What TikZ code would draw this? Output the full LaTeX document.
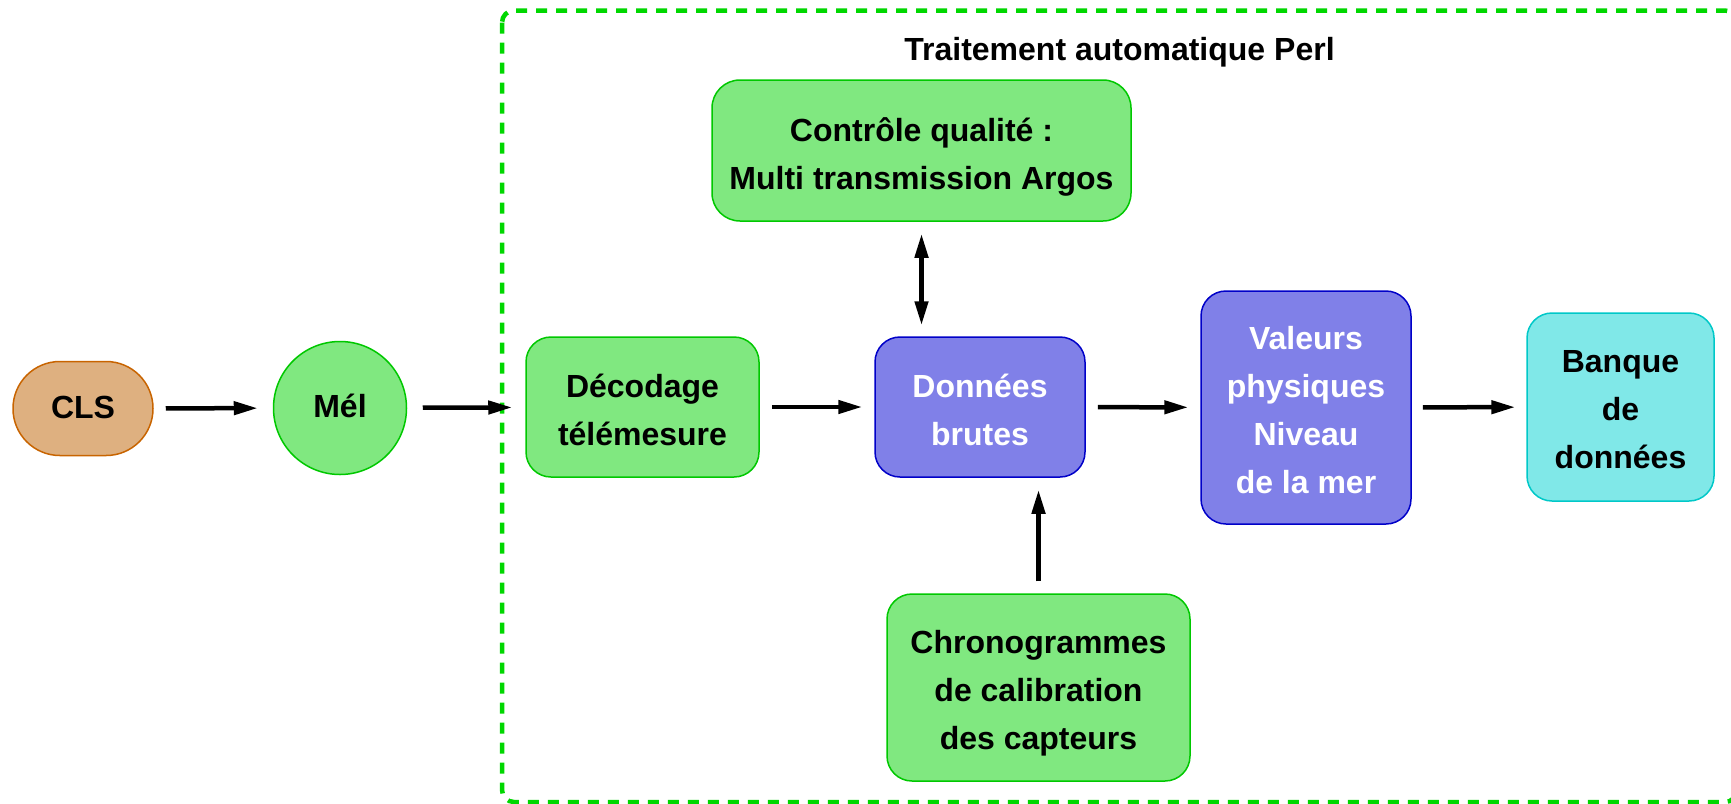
\documentclass[tikz,border=0pt]{standalone}
\usepackage{fontspec}
\setmainfont{Liberation Sans}
\usetikzlibrary{arrows.meta}
\definecolor{gfill}{RGB}{128,232,128}
\definecolor{gline}{RGB}{0,200,0}
\definecolor{bfill}{RGB}{128,128,232}
\definecolor{bline}{RGB}{0,0,200}
\definecolor{cfill}{RGB}{128,232,232}
\definecolor{cline}{RGB}{0,200,200}
\definecolor{ofill}{RGB}{222,176,128}
\definecolor{oline}{RGB}{200,100,0}
\definecolor{dline}{RGB}{0,215,0}
\begin{document}
\begin{tikzpicture}[x=1pt,y=-1pt,
  txt/.style={font=\fontsize{32}{48}\selectfont\bfseries, align=center,
    execute at begin node=\strut, execute at end node=\strut},
  dark/.style={txt, text=black, yshift=-10pt},
  light/.style={txt, text=white, yshift=-10pt},
  box/.style={draw, line width=1.5pt, rounded corners=25pt, inner sep=0pt},
  gbox/.style={box, fill=gfill, draw=gline},
  bbox/.style={box, fill=bfill, draw=bline},
  cbox/.style={box, fill=cfill, draw=cline},
  arr/.style={line width=4.5pt, -{Triangle[length=24pt,width=13pt]}},
  darr/.style={line width=4.5pt, {Triangle[length=24pt,width=13pt]}-{Triangle[length=24pt,width=13pt]}},
  frame/.style={draw=dline, line width=4.5pt, dash pattern=on 11pt off 9pt, rounded corners=12pt}
]
\useasboundingbox (0,0) rectangle (1731,803);
\draw[frame] (502,10.5) rectangle (1737,802);
\node[txt] (title) at (1119.5,50.5) {Traitement automatique Perl};

\node[txt, box, fill=ofill, draw=oline, rounded corners=46.9pt, minimum width=140pt, minimum height=94pt] (cls) at (83,408.5) {CLS};
\node[txt, circle, draw=gline, fill=gfill, line width=1.5pt, minimum size=133pt, inner sep=0pt] (mel) at (340,408) {Mél};
\node[gbox, minimum width=233pt, minimum height=140pt,
  label={[dark]center:{Décodage\\télémesure}}] (decod) at (642.5,407) {};
\node[bbox, minimum width=210pt, minimum height=140pt,
  label={[light]center:{Données\\brutes}}] (donnees) at (980,407) {};
\node[bbox, minimum width=210pt, minimum height=233pt,
  label={[light]center:{Valeurs\\physiques\\Niveau\\de la mer}}] (valeurs) at (1306,407.5) {};
\node[cbox, minimum width=187pt, minimum height=188pt,
  label={[dark]center:{Banque\\de\\données}}] (banque) at (1620.5,407) {};
\node[gbox, minimum width=419pt, minimum height=141pt, rounded corners=28pt,
  label={[dark]center:{Contrôle qualité :\\Multi transmission Argos}}] (ctrl) at (921.5,150.5) {};
\node[gbox, minimum width=303pt, minimum height=187pt,
  label={[dark]center:{Chronogrammes\\de calibration\\des capteurs}}] (chrono) at (1038.5,687.5) {};

\draw[arr, shorten <=12pt, shorten >=15pt] (cls) -- (mel);
\draw[arr, shorten <=15.5pt, shorten >=13pt] (mel) -- (decod);
\draw[arr, shorten <=12pt, shorten >=12pt] (decod) -- (donnees);
\draw[arr, shorten <=12pt, shorten >=12pt] (donnees) -- (valeurs);
\draw[arr, shorten <=11pt, shorten >=11pt] (valeurs) -- (banque);
\draw[darr, shorten <=12pt, shorten >=11pt] (ctrl.south) -- (ctrl.south |- donnees.north);
\draw[arr, shorten <=12pt, shorten >=12pt] (chrono.north) -- (chrono.north |- donnees.south);
\end{tikzpicture}
\end{document}
